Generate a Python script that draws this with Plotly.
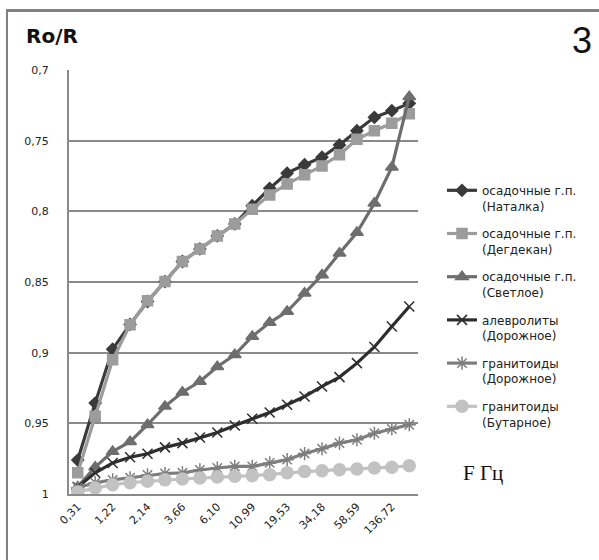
import plotly.graph_objects as go

categories = ["0,31", "0,61", "1,22", "1,83", "2,14", "2,75", "3,66", "4,88", "6,10", "8,54",
              "10,99", "14,65", "19,53", "26,86", "34,18", "46,39", "58,59", "97,66", "136,72", "195,31"]
tick_labels = categories[::2]

natalka = [0.976, 0.9357, 0.8975, 0.880, 0.8638, 0.8497, 0.8355, 0.8266, 0.8174, 0.8089,
           0.796, 0.7837, 0.773, 0.767, 0.7617, 0.753, 0.743, 0.7335, 0.7288, 0.7236]
degdekan = [0.985, 0.945, 0.905, 0.8803, 0.8633, 0.8497, 0.8355, 0.8266, 0.8174, 0.8089,
            0.7985, 0.7884, 0.7806, 0.7742, 0.7679, 0.760, 0.749, 0.743, 0.7377, 0.731]
svetloe = [0.995, 0.981, 0.970, 0.963, 0.951, 0.938, 0.928, 0.9204, 0.910, 0.9015,
           0.8885, 0.8787, 0.8709, 0.858, 0.845, 0.8296, 0.815, 0.7943, 0.7688, 0.7189]
alevrolity = [0.995, 0.985, 0.978, 0.974, 0.9715, 0.967, 0.964, 0.960, 0.9565, 0.9515,
              0.9467, 0.9423, 0.9368, 0.931, 0.9239, 0.9173, 0.9074, 0.896, 0.8815, 0.8673]
granit_dor = [0.9955, 0.992, 0.990, 0.9885, 0.9865, 0.9855, 0.985, 0.983, 0.9816, 0.9805,
              0.9805, 0.978, 0.9757, 0.9714, 0.968, 0.964, 0.9616, 0.957, 0.954, 0.951]
granit_but = [0.9985, 0.9957, 0.9934, 0.992, 0.991, 0.990, 0.9894, 0.9887, 0.988, 0.9875,
              0.987, 0.9863, 0.985, 0.984, 0.9835, 0.9828, 0.9823, 0.9816, 0.981, 0.980]

y_ticks = [0.7, 0.75, 0.8, 0.85, 0.9, 0.95, 1.0]
y_tick_text = ["0,7", "0,75", "0,8", "0,85", "0,9", "0,95", "1"]

series = [
    ("осадочные г.п.<br>(Наталка)", natalka, "#3a3a3a", "diamond", 9),
    ("осадочные г.п.<br>(Дегдекан)", degdekan, "#9c9c9c", "square", 10),
    ("осадочные г.п.<br>(Светлое)", svetloe, "#6e6e6e", "triangle-up", 11),
    ("алевролиты<br>(Дорожное)", alevrolity, "#2e2e2e", "x-thin-open", 10),
    ("гранитоиды<br>(Дорожное)", granit_dor, "#7e7e7e", "asterisk-open", 11),
    ("гранитоиды<br>(Бутарное)", granit_but, "#c2c2c2", "circle", 12),
]

fig = go.Figure()
for i, (name, vals, color, sym, size) in enumerate(series):
    fig.add_trace(go.Scatter(
        x=categories, y=vals, name=name, mode="lines+markers",
        legendgroup="g%d" % i,
        line=dict(color=color, width=3.2),
        marker=dict(symbol=sym, size=size, color=color,
                    line=dict(color=color, width=1.5)),
    ))

L, T, W, H = 69, 70, 349, 424
fig.update_layout(
    width=599, height=560,
    margin=dict(l=L, r=599 - L - W, t=T, b=560 - T - H),
    paper_bgcolor="white", plot_bgcolor="white",
    font=dict(family="DejaVu Sans", size=11, color="#222"),
    showlegend=True,
    legend=dict(x=(442 - L) / W, y=(494 - 176) / H, xanchor="left", yanchor="top",
                font=dict(size=12, color="#222"), valign="top",
                tracegroupgap=9, bgcolor="rgba(0,0,0,0)"),
    xaxis=dict(type="category", categoryorder="array", categoryarray=categories,
               tickmode="array", tickvals=tick_labels, ticktext=tick_labels,
               tickangle=-45, showgrid=False, showline=True, linecolor="#8a8a8a",
               linewidth=2, ticks="", tickfont=dict(size=11), range=[-0.5, 19.5]),
    yaxis=dict(range=[1.0, 0.7], tickmode="array", tickvals=y_ticks, ticktext=y_tick_text,
               showgrid=True, gridcolor="#8a8a8a", gridwidth=1.5, showline=True,
               linecolor="#8a8a8a", linewidth=2, zeroline=False, ticks="",
               ticklabelstandoff=16, tickfont=dict(size=11)),
)

# outer chart-area border (right and bottom edges fall outside the frame)
fig.add_shape(type="rect", xref="paper", yref="paper",
              x0=(7 - L) / W, x1=(608 - L) / W,
              y0=(T + H - 570) / H, y1=(T + H - 10) / H,
              line=dict(color="#808080", width=2), fillcolor="rgba(0,0,0,0)", layer="above")
fig.add_shape(type="line", xref="paper", yref="paper",
              x0=(7 - L) / W, x1=(599 - L) / W,
              y0=(T + H - 11) / H, y1=(T + H - 11) / H,
              line=dict(color="#808080", width=2), layer="above")

fig.add_annotation(text="<b>Ro/R</b>", xref="paper", yref="paper",
                   x=(24 - L) / W, y=(T + H - 36) / H, xanchor="left", yanchor="middle",
                   showarrow=False, font=dict(family="DejaVu Sans", size=20, color="#111"))
fig.add_annotation(text="3", xref="paper", yref="paper",
                   x=(582 - L) / W, y=(T + H - 40) / H, xanchor="center", yanchor="middle",
                   showarrow=False, font=dict(family="Liberation Sans", size=36, color="#111"))
fig.add_annotation(text="F Гц", xref="paper", yref="paper",
                   x=(461 - L) / W, y=(T + H - 473) / H, xanchor="left", yanchor="middle",
                   showarrow=False, font=dict(family="Liberation Serif", size=21, color="#111"))

fig.write_html("out.html", config={"displayModeBar": False},
               post_script="document.body.style.margin='0';document.body.style.overflow='hidden';")
